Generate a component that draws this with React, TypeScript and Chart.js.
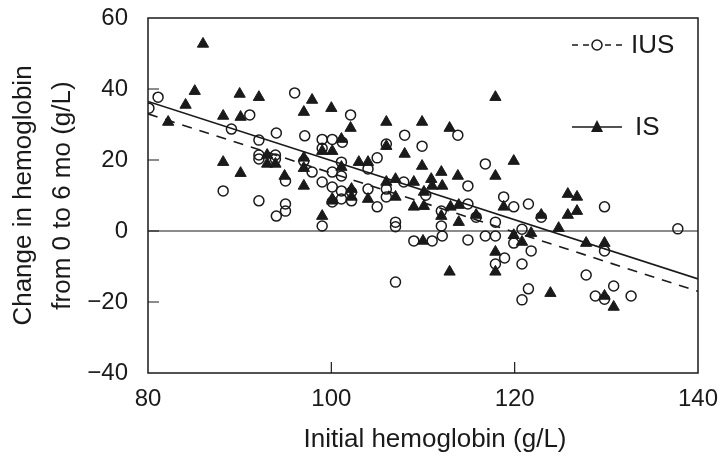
import React, { useEffect, useRef } from 'react';
import { Chart, registerables } from 'chart.js';

Chart.register(...registerables);

// ---------- data ----------
const xTickValues = [80, 100, 120, 140];
const yTickValues = [-40, -20, 0, 20, 40, 60];
const xInnerTicks = [100, 120];
const yInnerTicks = [40, 20, 0, -20];

const legendLabels = ['IUS', 'IS'];
const xTitle = 'Initial hemoglobin (g/L)';
const yTitle = ['Change in hemoglobin', 'from 0 to 6 mo (g/L)'];

// IS group (filled triangles) [initial Hb, change]
const isPoints: number[][] = [
  [86, 52.7], [85.1, 39.4], [84.1, 35.5], [82.2, 30.7], [88.2, 32.4], [90.1, 32.1], [90, 38.6], [92.1, 37.7],
  [97.9, 36.9], [97, 33.5], [100, 34.6], [99, 22.5], [100.1, 22.5], [93, 21.4], [93, 18.9], [93.9, 18.9],
  [94.9, 15.5], [88.2, 19.4], [90.1, 16.3], [97, 20.6], [97, 17.7], [97, 12.7], [100.1, 8.5], [99, 4.2],
  [102.1, 29], [106, 30.7], [109.9, 30.7], [112.9, 29], [117.9, 37.7], [101.1, 25.9],
  [106, 23.9], [108, 21.7], [109.9, 18.3], [119.9, 19.7], [117.9, 15.5], [112, 16.6], [113.8, 15.5],
  [103, 19.4], [104, 19.4], [101.1, 18], [106, 13.8], [107, 14.6], [109, 13.8], [110.9, 14.6], [111, 12.7],
  [112.1, 12.7], [110.1, 11], [102.2, 11.8], [102.2, 9.6], [100.1, 9], [104, 9], [107, 9.6],
  [109, 6.8], [110.1, 7], [113.9, 7.3], [113, 6.8], [112, 4.2], [113.9, 2.5], [115.8, 4.5], [118.8, 6.8],
  [122.9, 4.5], [125.8, 10.4], [126.8, 9.6], [125.8, 4.5], [126.8, 5.6], [124.8, 0.8],
  [119.9, -1.2], [121.8, -0.6], [110, -2.8], [120.8, -3.1], [117.9, -5.9], [117.9, -11.5], [112.9, -11.5],
  [123.9, -17.5], [127.8, -3.4], [129.8, -3.4], [129.8, -18.3], [130.8, -21.4],
];

// IUS group (open circles)
const iusPoints: number[][] = [
  [81.1, 37.7], [80.1, 34.6], [89.1, 28.7], [91.1, 32.7], [94, 27.6], [96, 38.9], [97.1, 26.8], [99, 25.8],
  [100.1, 25.8], [92.1, 25.6], [99, 23.3], [92.1, 21.4], [92.1, 20.3], [93.9, 21.4], [93.9, 20.3], [95, 14.1],
  [88.2, 11.3], [92.1, 8.5], [95, 7.6], [95, 5.6], [94, 4.2], [97, 19.7], [97.9, 16.6], [99, 13.8],
  [100.1, 16.6], [100.1, 12.4], [100.1, 8.2], [99, 1.4], [102.1, 32.7], [113.8, 27], [108, 27], [101.2, 25],
  [109.9, 23.9], [106, 24.5], [105, 20.6], [116.8, 18.9], [114.9, 12.7], [101.1, 19.4], [104, 17.5],
  [101.1, 15.5], [106, 11.8], [107.9, 13.8], [110.3, 10.1], [101.1, 11.3], [101.1, 9], [102.2, 11],
  [102.2, 8.5], [104, 11.8], [105, 6.8], [106, 9.6], [114.9, 7.6], [112, 5.6], [112, 1.4], [115.8, 3.9],
  [118.8, 9.6], [119.9, 6.8], [117.9, 2.5], [120.8, 0.5], [107, 2.5], [107, 1.2], [121.5, 7.6], [122.9, 3.9],
  [129.8, 6.8], [137.8, 0.6], [109, -2.8], [111, -2.8], [112.1, -1.4], [114.9, -2.5], [116.8, -1.4],
  [117.9, -1.4], [119.9, -3.4], [118.9, -7.6], [117.9, -9.3], [120.8, -9.3], [107, -14.4], [120.8, -19.4],
  [121.5, -16.3], [121.8, -5.6], [127.8, -12.4], [130.8, -15.5], [128.8, -18.3], [129.8, -19.2],
  [132.7, -18.3], [129.8, -5.6],
];

// regression lines
const isFitX = [80, 140];
const isFitY = [36.5, -13.5];
const iusFitX = [80, 140];
const iusFitY = [33, -17];
const zeroX = [80, 140];
const zeroY = [0, 0];

const INK = '#1a1a1a';
const FONT = '"Liberation Sans", Arial, Helvetica, sans-serif';

const toXY = (pts: number[][]) => pts.map(([x, y]) => ({ x, y }));
const zip = (xs: number[], ys: number[]) => xs.map((x, i) => ({ x, y: ys[i] }));

const zeroPad = (s: any) => {
  s.paddingTop = 0;
  s.paddingBottom = 0;
  s.paddingLeft = 0;
  s.paddingRight = 0;
};

const framePlugin = {
  id: 'frameAndLegend',
  afterDatasetsDraw(chart: any) {
    const { ctx, chartArea: a, scales } = chart;
    const xs = scales.x;
    const ys = scales.y;
    ctx.save();
    ctx.strokeStyle = INK;
    ctx.lineWidth = 1.5;
    ctx.setLineDash([]);
    ctx.strokeRect(a.left, a.top, a.right - a.left, a.bottom - a.top);
    ctx.lineWidth = 1.2;
    ctx.beginPath();
    xInnerTicks.forEach((v) => {
      const px = xs.getPixelForValue(v);
      ctx.moveTo(px, a.bottom);
      ctx.lineTo(px, a.bottom - 11);
    });
    yInnerTicks.forEach((v) => {
      const py = ys.getPixelForValue(v);
      ctx.moveTo(a.left, py);
      ctx.lineTo(a.left + 11, py);
    });
    ctx.stroke();

    // x-axis title (slightly right of axis centre, as in the reference)
    ctx.fillStyle = INK;
    ctx.font = `26px ${FONT}`;
    ctx.textAlign = 'center';
    ctx.textBaseline = 'middle';
    ctx.fillText(xTitle, (a.left + a.right) / 2 + 12, xs.bottom - 22);

    // legend
    const lx0 = a.right - 126;
    const lx1 = a.right - 76;
    const mx = (lx0 + lx1) / 2;
    const y1 = a.top + 27;
    const y2 = a.top + 109;
    ctx.lineWidth = 1.3;
    ctx.setLineDash([6, 5]);
    ctx.beginPath();
    ctx.moveTo(lx0, y1);
    ctx.lineTo(lx1, y1);
    ctx.stroke();
    ctx.setLineDash([]);
    ctx.lineWidth = 1.5;
    ctx.beginPath();
    ctx.arc(mx, y1, 5, 0, Math.PI * 2);
    ctx.fillStyle = '#fff';
    ctx.fill();
    ctx.stroke();
    ctx.lineWidth = 1.3;
    ctx.beginPath();
    ctx.moveTo(lx0, y2);
    ctx.lineTo(lx1, y2);
    ctx.stroke();
    ctx.fillStyle = INK;
    ctx.beginPath();
    ctx.moveTo(mx, y2 - 7);
    ctx.lineTo(mx + 6, y2 + 5);
    ctx.lineTo(mx - 6, y2 + 5);
    ctx.closePath();
    ctx.fill();
    ctx.font = `26px ${FONT}`;
    ctx.textBaseline = 'middle';
    ctx.textAlign = 'left';
    ctx.fillText(legendLabels[0], lx1 + 9, y1 + 1);
    ctx.fillText(legendLabels[1], lx1 + 13, y2 + 1);
    ctx.restore();
  },
};

export default function App() {
  const ref = useRef<HTMLCanvasElement | null>(null);
  useEffect(() => {
    if (!ref.current) return;
    Chart.defaults.font.family = FONT;
    const chart = new Chart(ref.current, {
      type: 'scatter',
      data: {
        datasets: [
          {
            label: 'zero',
            data: zip(zeroX, zeroY),
            showLine: true,
            borderColor: INK,
            borderWidth: 1.2,
            pointRadius: 0,
            order: 5,
          },
          {
            label: 'IUS fit',
            data: zip(iusFitX, iusFitY),
            showLine: true,
            borderColor: INK,
            borderWidth: 1.6,
            borderDash: [10, 8],
            pointRadius: 0,
            order: 4,
          },
          {
            label: 'IS fit',
            data: zip(isFitX, isFitY),
            showLine: true,
            borderColor: INK,
            borderWidth: 1.6,
            pointRadius: 0,
            order: 3,
          },
          {
            label: legendLabels[0],
            data: toXY(iusPoints),
            pointStyle: 'circle',
            pointRadius: 5,
            borderWidth: 1.5,
            borderColor: INK,
            backgroundColor: 'rgba(0,0,0,0)',
            order: 2,
          },
          {
            label: legendLabels[1],
            data: toXY(isPoints),
            pointStyle: 'triangle',
            pointRadius: 6.5,
            borderWidth: 1,
            borderColor: INK,
            backgroundColor: INK,
            order: 1,
          },
        ],
      },
      options: {
        animation: false,
        responsive: false,
        events: [],
        layout: { padding: { top: 18, right: 22, left: 0, bottom: 0 } },
        plugins: { legend: { display: false }, tooltip: { enabled: false } },
        scales: {
          x: {
            type: 'linear',
            min: 80,
            max: 140,
            afterBuildTicks: (s: any) => {
              s.ticks = xTickValues.map((v) => ({ value: v }));
            },
            ticks: { color: INK, font: { size: 24 }, padding: 12 },
            grid: { display: false, drawTicks: false },
            border: { display: false },
            title: { display: false },
            afterFit: (s: any) => {
              s.height = 89;
              zeroPad(s);
            },
          },
          y: {
            type: 'linear',
            min: -40,
            max: 60,
            afterBuildTicks: (s: any) => {
              s.ticks = yTickValues.map((v) => ({ value: v }));
            },
            ticks: {
              color: INK,
              font: { size: 24 },
              padding: 20,
              callback: (v: any) => String(v).replace('-', '\u2212'),
            },
            grid: { display: false, drawTicks: false },
            border: { display: false },
            title: {
              display: true,
              text: yTitle,
              color: INK,
              font: { size: 26, lineHeight: 1.52 },
              padding: { top: 4, bottom: 0 },
            },
            afterFit: (s: any) => {
              s.width = 148;
              zeroPad(s);
            },
          },
        },
      },
      plugins: [framePlugin],
    } as any);
    return () => chart.destroy();
  }, []);
  return (
    <div style={{ position: 'absolute', left: 0, top: 0, width: 720, height: 462, background: '#fff' }}>
      <canvas ref={ref} width={720} height={462} style={{ display: 'block' }} />
    </div>
  );
}
